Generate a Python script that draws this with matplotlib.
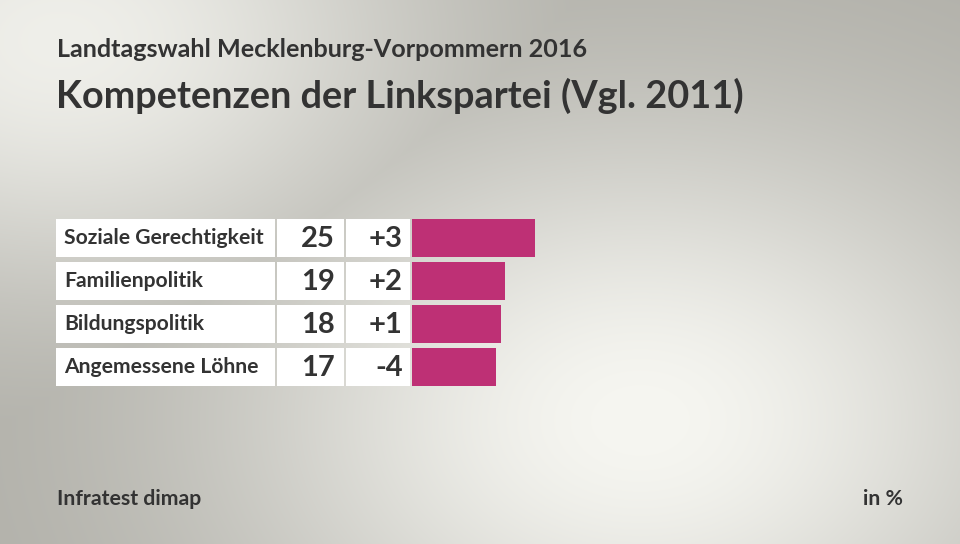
import numpy as np
import matplotlib.pyplot as plt
from matplotlib.colors import to_rgb

# data
themen = ['Soziale Gerechtigkeit', 'Familienpolitik', 'Bildungspolitik', 'Angemessene Löhne']
werte = [25, 19, 18, 17]
diff = ['+3', '+2', '+1', '-4']

titel_oben = 'Landtagswahl Mecklenburg-Vorpommern 2016'
titel = 'Kompetenzen der Linkspartei (Vgl. 2011)'
quelle = 'Infratest dimap'
einheit = 'in %'

W, H = 960, 544
bar_col = '#be3075'
txt_col = '#333333'
font = 'Lato'

fig = plt.figure(figsize=(W / 100, H / 100), dpi=100)

# background: soft grey radial gradient
bg = fig.add_axes([0, 0, 1, 1])
yy, xx = np.mgrid[0:H, 0:W]
light = np.array(to_rgb('#f6f6f1'))
dark = np.array(to_rgb('#aeada6'))
b1 = np.exp(-(((xx - 640) / 420.0) ** 2 + ((yy - 420) / 300.0) ** 2))
b2 = np.exp(-(((xx - 60) / 380.0) ** 2 + ((yy - 40) / 260.0) ** 2))
t = np.clip(np.maximum(b1, 0.9 * b2), 0, 1)[..., None]
img = dark + (light - dark) * t
bg.imshow(img, extent=[0, W, H, 0], aspect='auto')
bg.set_xlim(0, W)
bg.set_ylim(H, 0)
bg.axis('off')

bg.text(57, 57, titel_oben, fontsize=18.1, fontfamily=font, fontweight='bold',
        color=txt_col, va='baseline')
bg.text(56, 108, titel, fontsize=27.3, fontfamily=font, fontweight='bold',
        color=txt_col, va='baseline')
bg.text(57, 505, quelle, fontsize=15.3, fontfamily=font, fontweight='bold',
        color=txt_col, va='baseline')
bg.text(903, 505, einheit, fontsize=15.3, fontfamily=font, fontweight='bold',
        color=txt_col, va='baseline', ha='right')

# chart axes: bar origin at px 412, 4.92 px per percent point
x0, scale = 412, 4.92
left_px, right_px = 40, 920
top_px, bot_px = 216.5, 389
ax = fig.add_axes([left_px / W, (H - bot_px) / H, (right_px - left_px) / W, (bot_px - top_px) / H])
ax.set_xlim((left_px - x0) / scale, (right_px - x0) / scale)
ax.set_ylim(len(themen) - 0.5, -0.5)
ax.axis('off')


def px(x):
    return (x - x0) / scale


y = np.arange(len(themen))
h = 0.88
# white table cells
ax.barh(y, px(275) - px(56), left=px(56), height=h, color='white')
ax.barh(y, px(344) - px(277), left=px(277), height=h, color='white')
ax.barh(y, px(410) - px(346), left=px(346), height=h, color='white')
# bars
ax.barh(y, werte, left=0, height=h, color=bar_col)

for i in range(len(themen)):
    ax.text(px(64), i, themen[i], fontsize=15.2, fontfamily=font, fontweight='bold',
            color=txt_col, va='center')
    ax.text(px(335), i + 0.02, str(werte[i]), fontsize=21, fontfamily=font, fontweight='bold',
            color=txt_col, va='center', ha='right')
    ax.text(px(403), i + 0.02, diff[i], fontsize=21, fontfamily=font, fontweight='bold',
            color=txt_col, va='center', ha='right')

fig.savefig('out.png', dpi=100)
